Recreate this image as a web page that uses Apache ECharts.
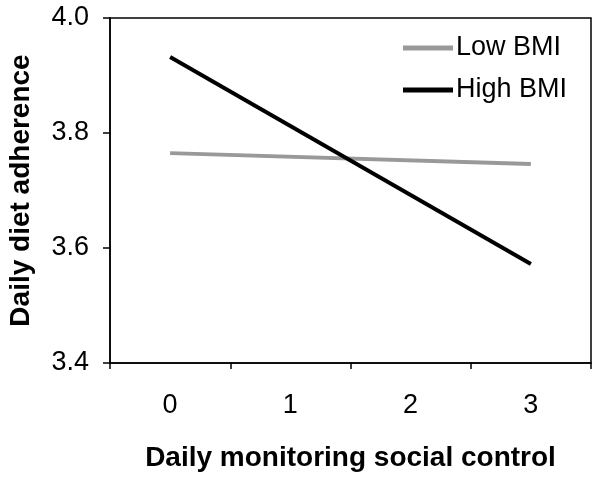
<!DOCTYPE html>
<html>
<head>
<meta charset="utf-8">
<script src="https://cdn.jsdelivr.net/npm/echarts@6/dist/echarts.min.js"></script>
<style>html,body{margin:0;padding:0;background:#fff}#c{width:601px;height:482px}</style>
</head>
<body>
<div id="c"></div>
<script>
const categories = ['0', '1', '2', '3'];
const lowBMI = [3.765, null, null, 3.746];
const highBMI = [3.932, null, null, 3.572];
const yTicks = [3.4, 3.6, 3.8, 4.0];

const font = '"Liberation Sans", Arial, Helvetica, sans-serif';
const chart = echarts.init(document.getElementById('c'), null, {renderer: 'canvas'});
chart.setOption({
  animation: false,
  backgroundColor: '#fff',
  grid: {left: 110, top: 18, right: 10, bottom: 119, show: true, borderColor: '#000', borderWidth: 1.5,
         backgroundColor: 'transparent', containLabel: false, outerBoundsMode: 'none'},
  legend: {
    left: 398, top: 28, orient: 'vertical',
    icon: 'rect', itemWidth: 50, itemHeight: 5, itemGap: 12,
    textStyle: {fontFamily: font, fontSize: 27, color: '#000', lineHeight: 30, padding: [0, 0, 0, -2]},
    data: [{name: 'Low BMI', itemStyle: {color: '#999999'}}, {name: 'High BMI', itemStyle: {color: '#000'}}]
  },
  xAxis: {
    type: 'category', data: categories, boundaryGap: true,
    name: 'Daily monitoring social control', nameLocation: 'middle', nameGap: 81,
    nameTextStyle: {fontFamily: font, fontSize: 28, fontWeight: 'bold', color: '#000', verticalAlign: 'top'},
    axisLine: {lineStyle: {color: '#000', width: 1.5}},
    axisTick: {show: true, length: 6, inside: false, alignWithLabel: false, lineStyle: {color: '#000', width: 1.5}},
    axisLabel: {fontFamily: font, fontSize: 27, color: '#000', margin: 29},
    splitLine: {show: false}
  },
  yAxis: {
    type: 'value', min: 3.4, max: 4.0, interval: 0.2,
    name: 'Daily diet adherence', nameLocation: 'middle', nameGap: 75, nameRotate: 90,
    nameTextStyle: {fontFamily: font, fontSize: 28, fontWeight: 'bold', color: '#000'},
    axisLine: {show: true, lineStyle: {color: '#000', width: 1.5}},
    axisTick: {show: true, length: 7, lineStyle: {color: '#000', width: 1.5}},
    axisLabel: {fontFamily: font, fontSize: 27, color: '#000', margin: 21,
      formatter: v => { const t = yTicks.find(x => Math.abs(x - v) < 1e-6); return t !== undefined ? t.toFixed(1) : ''; }},
    splitLine: {show: false}
  },
  series: [
    {name: 'Low BMI', type: 'line', data: lowBMI, connectNulls: true, symbol: 'none',
     lineStyle: {color: '#999999', width: 4}, itemStyle: {color: '#999999'}},
    {name: 'High BMI', type: 'line', data: highBMI, connectNulls: true, symbol: 'none',
     lineStyle: {color: '#000', width: 4}, itemStyle: {color: '#000'}}
  ]
});
</script>
</body>
</html>
